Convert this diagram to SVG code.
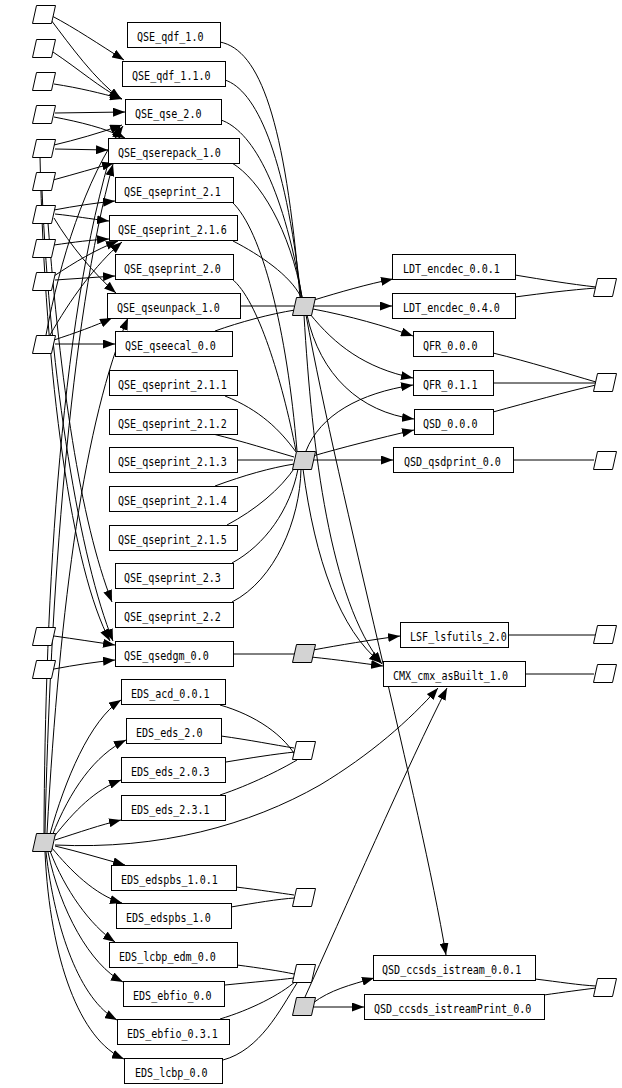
<svg xmlns="http://www.w3.org/2000/svg" width="622" height="1088" viewBox="0 0 622 1088">
<style>
.b{fill:#fff;stroke:#000;stroke-width:1}
.p{fill:#fff;stroke:#000;stroke-width:1}
.g{fill:#d3d3d3;stroke:#000;stroke-width:1}
.t{font-family:"DejaVu Sans Mono","Liberation Mono",monospace;font-size:12px;fill:#000}
.e{fill:none;stroke:#000;stroke-width:1}
.a{fill:none;stroke:#000;stroke-width:1;marker-end:url(#ah)}
</style>
<defs>
<marker id="ah" markerUnits="userSpaceOnUse" markerWidth="12" markerHeight="9" refX="12" refY="4.5" orient="auto">
<path d="M0,0 L12,4.5 L0,9 z" fill="#000"/>
</marker>
<polygon id="para" points="4,0 23,0 19,18 0,18"/>
</defs>
<rect width="622" height="1088" fill="#fff"/>

<g id="connectors">
<!-- left inputs -->
<path class="a" d="M52,16 C75,28 100,45 124,60"/>
<path class="a" d="M51,20 C70,45 95,80 121,99"/>
<path class="a" d="M53,52 C80,70 100,88 122,99"/>
<path class="a" d="M54,84 C80,88 100,93 122,99"/>
<path class="a" d="M55,113 L125,112"/>
<path class="a" d="M54,117 C80,122 105,128 125,138"/>
<path class="a" d="M54,145 C75,140 100,133 122,125"/>
<path class="a" d="M55,149 L108,150"/>
<path class="a" d="M53,180 C75,174 95,168 114,163"/>
<path class="a" d="M54,210 C75,206 95,203 115,201"/>
<path class="a" d="M55,214 C75,216 90,219 109,221"/>
<path class="a" d="M54,218 C70,245 95,275 116,293"/>
<path class="a" d="M54,245 C75,242 90,240 109,239"/>
<path class="a" d="M55,280 C75,279 95,277 115,276"/>
<path class="a" d="M54,276 C75,262 95,250 118,241"/>
<path class="a" d="M55,344 L115,344"/>
<path class="a" d="M54,340 C75,333 95,326 112,318"/>
<path class="a" d="M46,335 C60,260 85,180 123,126"/>
<path class="a" d="M50,335 C70,300 95,265 122,242"/>
<path class="a" d="M48,223 C60,380 80,520 112,602"/>
<path class="a" d="M42,190 C50,380 80,560 113,641"/>
<path class="a" d="M40,157 C45,380 72,570 110,641"/>
<path class="a" d="M54,636 C75,639 95,642 115,645"/>
<path class="a" d="M54,669 C75,665 95,662 115,660"/>
<!-- G1 long upward -->
<path class="a" d="M47,833 C60,600 85,420 128,318"/>
<path class="a" d="M44,833 C45,600 60,300 120,125"/>
<path class="a" d="M45,833 C50,600 70,320 113,164"/>
<!-- G1 to EDS -->
<path class="a" d="M50,834 C65,780 90,720 121,700"/>
<path class="a" d="M52,836 C70,790 95,755 126,740"/>
<path class="a" d="M53,838 C75,810 95,790 121,780"/>
<path class="a" d="M55,840 C80,832 100,825 121,820"/>
<path class="a" d="M55,845 C160,850 250,825 320,785 C370,755 410,720 438,688"/>
<path class="a" d="M55,846 C80,852 100,858 125,865"/>
<path class="a" d="M52,848 C70,870 95,895 122,903"/>
<path class="a" d="M50,851 C65,890 90,925 115,942"/>
<path class="a" d="M48,852 C60,910 90,965 123,982"/>
<path class="a" d="M46,852 C55,930 80,1000 117,1020"/>
<path class="a" d="M45,852 C50,960 80,1040 124,1059"/>
<!-- QSE into G2 -->
<path class="e" d="M220,42 C260,50 285,120 300,297"/>
<path class="e" d="M225,80 C255,90 285,150 301,297"/>
<path class="e" d="M221,120 C250,130 282,180 302,297"/>
<path class="e" d="M232,163 C260,180 290,230 302,297"/>
<path class="e" d="M233,241 C260,255 290,275 301,297"/>
<path class="e" d="M240,306 L294,306"/>
<path class="e" d="M215,331 C240,322 270,314 295,310"/>
<!-- QSE into G3 -->
<path class="e" d="M232,202 C262,230 287,330 297,451"/>
<path class="e" d="M232,279 C258,300 282,380 296,451"/>
<path class="e" d="M225,396 C260,410 280,430 296,452"/>
<path class="e" d="M213,434 C245,442 270,450 294,457"/>
<path class="e" d="M237,460 L293,460"/>
<path class="e" d="M215,486 C245,475 270,468 294,464"/>
<path class="e" d="M227,525 C255,510 280,490 296,466"/>
<path class="e" d="M232,563 C265,545 290,510 298,469"/>
<path class="e" d="M232,602 C275,580 300,520 301,469"/>
<!-- G2 outputs -->
<path class="a" d="M314,300 C340,292 368,284 393,279"/>
<path class="a" d="M314,306 L392,306"/>
<path class="a" d="M313,309 C350,316 385,326 413,336"/>
<path class="a" d="M310,314 C335,345 365,368 413,378"/>
<path class="a" d="M307,315 C320,375 360,412 414,419"/>
<path class="a" d="M304,315 C312,450 330,600 382,664"/>
<path class="a" d="M306,315 C340,500 420,800 446,955"/>
<!-- G3 outputs -->
<path class="a" d="M312,460 L393,460"/>
<path class="a" d="M313,456 C340,448 380,438 414,430"/>
<path class="a" d="M306,451 C320,415 360,393 413,385"/>
<path class="a" d="M303,469 C315,560 340,630 381,663"/>
<!-- G4 -->
<path class="e" d="M233,654 L294,654"/>
<path class="a" d="M313,650 C340,645 370,640 400,636"/>
<path class="a" d="M311,657 C340,660 360,663 383,666"/>
<!-- EDS to W nodes -->
<path class="e" d="M220,705 C255,715 285,735 298,760"/>
<path class="e" d="M221,736 C250,740 275,745 294,748"/>
<path class="e" d="M226,762 C250,758 275,754 295,752"/>
<path class="e" d="M220,795 C250,785 280,770 297,760"/>
<path class="e" d="M236,887 C260,890 280,893 294,895"/>
<path class="e" d="M231,907 C255,903 278,899 295,898"/>
<path class="e" d="M237,965 C260,968 280,971 294,974"/>
<path class="e" d="M225,985 C255,982 278,980 294,978"/>
<path class="e" d="M220,1019 C250,1010 280,995 296,981"/>
<path class="e" d="M223,1060 C260,1050 280,1010 297,983"/>
<!-- G5 -->
<path class="a" d="M313,1003 C330,990 350,985 374,978"/>
<path class="a" d="M311,1007 L364,1007"/>
<path class="a" d="M305,997 C340,920 410,760 447,688"/>
<!-- right outputs -->
<path class="e" d="M515,275 C545,280 570,284 596,287"/>
<path class="e" d="M515,297 C545,293 570,290 596,288"/>
<path class="e" d="M493,353 C530,362 565,373 596,382"/>
<path class="e" d="M493,383 L596,383"/>
<path class="e" d="M493,412 C530,402 565,392 596,385"/>
<path class="e" d="M513,460 L594,460"/>
<path class="e" d="M508,635 L595,635"/>
<path class="e" d="M525,674 L594,674"/>
<path class="e" d="M535,979 C560,982 578,985 596,986"/>
<path class="e" d="M544,995 C565,992 580,990 596,988"/>
</g>

<!-- left parallelograms -->
<g id="P1"><use href="#para" class="p" x="32.5" y="5.5"/></g>
<g id="P2"><use href="#para" class="p" x="32.5" y="39.5"/></g>
<g id="P3"><use href="#para" class="p" x="32.5" y="72.5"/></g>
<g id="P4"><use href="#para" class="p" x="32.5" y="105.5"/></g>
<g id="P5"><use href="#para" class="p" x="32.5" y="139.5"/></g>
<g id="P6"><use href="#para" class="p" x="32.5" y="172.5"/></g>
<g id="P7"><use href="#para" class="p" x="32.5" y="205.5"/></g>
<g id="P8"><use href="#para" class="p" x="32.5" y="239.5"/></g>
<g id="P9"><use href="#para" class="p" x="32.5" y="272.5"/></g>
<g id="P10"><use href="#para" class="p" x="32.5" y="335.5"/></g>
<g id="P11"><use href="#para" class="p" x="32.5" y="627.5"/></g>
<g id="P12"><use href="#para" class="p" x="32.5" y="660.5"/></g>
<g id="G1"><use href="#para" class="g" x="32.5" y="833.5"/></g>
<!-- middle -->
<g id="G2"><use href="#para" class="g" x="292.5" y="297.5"/></g>
<g id="G3"><use href="#para" class="g" x="292.5" y="451.5"/></g>
<g id="G4"><use href="#para" class="g" x="292.5" y="644.5"/></g>
<g id="W1"><use href="#para" class="p" x="292.5" y="741.5"/></g>
<g id="W2"><use href="#para" class="p" x="292.5" y="888.5"/></g>
<g id="W3"><use href="#para" class="p" x="292.5" y="964.5"/></g>
<g id="G5"><use href="#para" class="g" x="292.5" y="997.5"/></g>
<!-- right -->
<g id="R1"><use href="#para" class="p" x="593.5" y="278.5"/></g>
<g id="R2"><use href="#para" class="p" x="593.5" y="373.5"/></g>
<g id="R3"><use href="#para" class="p" x="593.5" y="451.5"/></g>
<g id="R4"><use href="#para" class="p" x="593.5" y="625.5"/></g>
<g id="R5"><use href="#para" class="p" x="593.5" y="664.5"/></g>
<g id="R6"><use href="#para" class="p" x="593.5" y="978.5"/></g>

<!-- boxes -->
<g id="QSE_qdf_1.0"><rect class="b" x="127.5" y="22.5" width="93" height="25"/><text class="t" x="137" y="41" textLength="66.5" lengthAdjust="spacingAndGlyphs">QSE_qdf_1.0</text></g>
<g id="QSE_qdf_1.1.0"><rect class="b" x="122.5" y="61.5" width="103" height="25"/><text class="t" x="132" y="80" textLength="78.6" lengthAdjust="spacingAndGlyphs">QSE_qdf_1.1.0</text></g>
<g id="QSE_qse_2.0"><rect class="b" x="125.5" y="99.5" width="96" height="25"/><text class="t" x="135" y="118" textLength="66.5" lengthAdjust="spacingAndGlyphs">QSE_qse_2.0</text></g>
<g id="QSE_qserepack_1.0"><rect class="b" x="108.5" y="138.5" width="131" height="25"/><text class="t" x="118" y="157" textLength="102.8" lengthAdjust="spacingAndGlyphs">QSE_qserepack_1.0</text></g>
<g id="QSE_qseprint_2.1"><rect class="b" x="115.5" y="177.5" width="118" height="25"/><text class="t" x="124" y="196" textLength="96.8" lengthAdjust="spacingAndGlyphs">QSE_qseprint_2.1</text></g>
<g id="QSE_qseprint_2.1.6"><rect class="b" x="109.5" y="215.5" width="128" height="25"/><text class="t" x="118" y="234" textLength="108.9" lengthAdjust="spacingAndGlyphs">QSE_qseprint_2.1.6</text></g>
<g id="QSE_qseprint_2.0"><rect class="b" x="115.5" y="254.5" width="118" height="25"/><text class="t" x="124" y="273" textLength="96.8" lengthAdjust="spacingAndGlyphs">QSE_qseprint_2.0</text></g>
<g id="QSE_qseunpack_1.0"><rect class="b" x="107.5" y="293.5" width="133" height="25"/><text class="t" x="117" y="312" textLength="102.8" lengthAdjust="spacingAndGlyphs">QSE_qseunpack_1.0</text></g>
<g id="QSE_qseecal_0.0"><rect class="b" x="115.5" y="331.5" width="117" height="25"/><text class="t" x="125" y="350" textLength="90.8" lengthAdjust="spacingAndGlyphs">QSE_qseecal_0.0</text></g>
<g id="QSE_qseprint_2.1.1"><rect class="b" x="109.5" y="370.5" width="128" height="25"/><text class="t" x="118" y="389" textLength="108.9" lengthAdjust="spacingAndGlyphs">QSE_qseprint_2.1.1</text></g>
<g id="QSE_qseprint_2.1.2"><rect class="b" x="109.5" y="409.5" width="128" height="25"/><text class="t" x="118" y="428" textLength="108.9" lengthAdjust="spacingAndGlyphs">QSE_qseprint_2.1.2</text></g>
<g id="QSE_qseprint_2.1.3"><rect class="b" x="109.5" y="447.5" width="128" height="25"/><text class="t" x="118" y="466" textLength="108.9" lengthAdjust="spacingAndGlyphs">QSE_qseprint_2.1.3</text></g>
<g id="QSE_qseprint_2.1.4"><rect class="b" x="109.5" y="486.5" width="128" height="25"/><text class="t" x="118" y="505" textLength="108.9" lengthAdjust="spacingAndGlyphs">QSE_qseprint_2.1.4</text></g>
<g id="QSE_qseprint_2.1.5"><rect class="b" x="109.5" y="525.5" width="128" height="25"/><text class="t" x="118" y="544" textLength="108.9" lengthAdjust="spacingAndGlyphs">QSE_qseprint_2.1.5</text></g>
<g id="QSE_qseprint_2.3"><rect class="b" x="115.5" y="563.5" width="118" height="25"/><text class="t" x="124" y="582" textLength="96.8" lengthAdjust="spacingAndGlyphs">QSE_qseprint_2.3</text></g>
<g id="QSE_qseprint_2.2"><rect class="b" x="115.5" y="602.5" width="118" height="25"/><text class="t" x="124" y="621" textLength="96.8" lengthAdjust="spacingAndGlyphs">QSE_qseprint_2.2</text></g>
<g id="QSE_qsedgm_0.0"><rect class="b" x="115.5" y="641.5" width="118" height="25"/><text class="t" x="124" y="660" textLength="84.7" lengthAdjust="spacingAndGlyphs">QSE_qsedgm_0.0</text></g>
<g id="EDS_acd_0.0.1"><rect class="b" x="121.5" y="679.5" width="104" height="25"/><text class="t" x="131" y="698" textLength="78.6" lengthAdjust="spacingAndGlyphs">EDS_acd_0.0.1</text></g>
<g id="EDS_eds_2.0"><rect class="b" x="126.5" y="718.5" width="95" height="25"/><text class="t" x="136" y="737" textLength="66.5" lengthAdjust="spacingAndGlyphs">EDS_eds_2.0</text></g>
<g id="EDS_eds_2.0.3"><rect class="b" x="121.5" y="757.5" width="104" height="25"/><text class="t" x="131" y="776" textLength="78.6" lengthAdjust="spacingAndGlyphs">EDS_eds_2.0.3</text></g>
<g id="EDS_eds_2.3.1"><rect class="b" x="121.5" y="795.5" width="104" height="25"/><text class="t" x="131" y="814" textLength="78.6" lengthAdjust="spacingAndGlyphs">EDS_eds_2.3.1</text></g>
<g id="EDS_edspbs_1.0.1"><rect class="b" x="111.5" y="865.5" width="125" height="25"/><text class="t" x="121" y="884" textLength="96.8" lengthAdjust="spacingAndGlyphs">EDS_edspbs_1.0.1</text></g>
<g id="EDS_edspbs_1.0"><rect class="b" x="116.5" y="903.5" width="115" height="25"/><text class="t" x="126" y="922" textLength="84.7" lengthAdjust="spacingAndGlyphs">EDS_edspbs_1.0</text></g>
<g id="EDS_lcbp_edm_0.0"><rect class="b" x="109.5" y="942.5" width="128" height="25"/><text class="t" x="119" y="961" textLength="96.8" lengthAdjust="spacingAndGlyphs">EDS_lcbp_edm_0.0</text></g>
<g id="EDS_ebfio_0.0"><rect class="b" x="123.5" y="981.5" width="101" height="25"/><text class="t" x="133" y="1000" textLength="78.6" lengthAdjust="spacingAndGlyphs">EDS_ebfio_0.0</text></g>
<g id="EDS_ebfio_0.3.1"><rect class="b" x="117.5" y="1019.5" width="112" height="25"/><text class="t" x="127" y="1038" textLength="90.8" lengthAdjust="spacingAndGlyphs">EDS_ebfio_0.3.1</text></g>
<g id="EDS_lcbp_0.0"><rect class="b" x="124.5" y="1058.5" width="98" height="25"/><text class="t" x="135" y="1077" textLength="72.6" lengthAdjust="spacingAndGlyphs">EDS_lcbp_0.0</text></g>
<g id="LDT_encdec_0.0.1"><rect class="b" x="392.5" y="254.5" width="123" height="25"/><text class="t" x="403" y="273" textLength="96.8" lengthAdjust="spacingAndGlyphs">LDT_encdec_0.0.1</text></g>
<g id="LDT_encdec_0.4.0"><rect class="b" x="392.5" y="293.5" width="123" height="25"/><text class="t" x="403" y="312" textLength="96.8" lengthAdjust="spacingAndGlyphs">LDT_encdec_0.4.0</text></g>
<g id="QFR_0.0.0"><rect class="b" x="413.5" y="331.5" width="80" height="25"/><text class="t" x="423" y="350" textLength="54.5" lengthAdjust="spacingAndGlyphs">QFR_0.0.0</text></g>
<g id="QFR_0.1.1"><rect class="b" x="413.5" y="370.5" width="80" height="25"/><text class="t" x="423" y="389" textLength="54.5" lengthAdjust="spacingAndGlyphs">QFR_0.1.1</text></g>
<g id="QSD_0.0.0"><rect class="b" x="414.5" y="409.5" width="79" height="25"/><text class="t" x="423" y="428" textLength="54.5" lengthAdjust="spacingAndGlyphs">QSD_0.0.0</text></g>
<g id="QSD_qsdprint_0.0"><rect class="b" x="393.5" y="447.5" width="120" height="25"/><text class="t" x="404" y="466" textLength="96.8" lengthAdjust="spacingAndGlyphs">QSD_qsdprint_0.0</text></g>
<g id="LSF_lsfutils_2.0"><rect class="b" x="400.5" y="622.5" width="108" height="25"/><text class="t" x="410" y="641" textLength="96.8" lengthAdjust="spacingAndGlyphs">LSF_lsfutils_2.0</text></g>
<g id="CMX_cmx_asBuilt_1.0"><rect class="b" x="383.5" y="661.5" width="142" height="25"/><text class="t" x="393" y="680" textLength="115" lengthAdjust="spacingAndGlyphs">CMX_cmx_asBuilt_1.0</text></g>
<g id="QSD_ccsds_istream_0.0.1"><rect class="b" x="373.5" y="955.5" width="162" height="25"/><text class="t" x="382" y="974" textLength="139.2" lengthAdjust="spacingAndGlyphs">QSD_ccsds_istream_0.0.1</text></g>
<g id="QSD_ccsds_istreamPrint_0.0"><rect class="b" x="364.5" y="994.5" width="180" height="25"/><text class="t" x="374" y="1013" textLength="157.3" lengthAdjust="spacingAndGlyphs">QSD_ccsds_istreamPrint_0.0</text></g>
</svg>
